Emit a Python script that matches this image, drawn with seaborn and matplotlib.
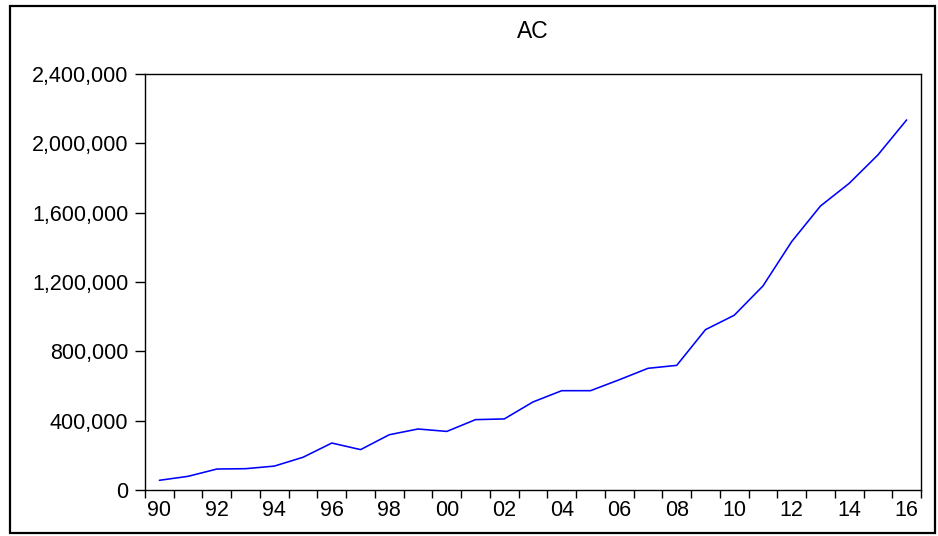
import matplotlib
matplotlib.use("Agg")
import matplotlib.pyplot as plt
from matplotlib.ticker import FixedLocator, FuncFormatter
from matplotlib.patches import Rectangle
import seaborn as sns
import pandas as pd

years = list(range(1990, 2017))
ac_values = [56000, 79000, 121000, 123000, 138000, 189000, 271000, 233000, 319000,
             352000, 338000, 406000, 410000, 508000, 573000, 573000, 636000, 702000,
             719000, 925000, 1008000, 1177000, 1433000, 1638000, 1769000, 1933000, 2135000]
year_labels = ["90", "92", "94", "96", "98", "00", "02", "04", "06", "08", "10", "12", "14", "16"]
y_ticks = [0, 400000, 800000, 1200000, 1600000, 2000000, 2400000]
title = "AC"

sns.set_theme(style="ticks")
plt.rcParams['font.family'] = ['Liberation Sans', 'DejaVu Sans']
plt.rcParams['text.color'] = 'black'

df = pd.DataFrame({"year": years, "AC": ac_values})

fig = plt.figure(figsize=(9.38, 5.36), dpi=100)
ax = fig.add_axes([0.1546, 0.0858, 0.9819 - 0.1546, 0.862 - 0.0858])
sns.lineplot(data=df, x="year", y="AC", ax=ax, color="#0000ff", linewidth=1.15)

ax.set_xlim(1989.5, 2016.5)
ax.set_ylim(0, 2400000)
ax.set_xlabel("")
ax.set_ylabel("")

major_x = [1990 + 2 * i for i in range(len(year_labels))]
ax.xaxis.set_major_locator(FixedLocator(major_x))
ax.set_xticklabels(year_labels)
ax.xaxis.set_minor_locator(FixedLocator([y - 0.5 for y in years] + [2016.5]))
ax.tick_params(axis="x", which="major", length=0, pad=7, labelsize=15.5, colors="black")
ax.tick_params(axis="x", which="minor", length=6, width=1, color="black", direction="out")

ax.set_yticks(y_ticks)
ax.yaxis.set_major_formatter(FuncFormatter(lambda v, p: f"{int(v):,}"))
ax.tick_params(axis="y", which="major", length=7, width=1, pad=5, labelsize=15.5,
               colors="black", direction="out")

for s in ax.spines.values():
    s.set_visible(True)
    s.set_color("black")
    s.set_linewidth(1.0)

fig.text(533 / 938, 1 - 32 / 536, title, ha="center", va="center", fontsize=16.5,
         color="black")

fig.patches.append(Rectangle((10 / 938, 3 / 536), (935 - 10) / 938, (530 - 3) / 536,
                             transform=fig.transFigure, fill=False,
                             edgecolor="black", linewidth=1.6))

fig.savefig("out.png", dpi=100)
